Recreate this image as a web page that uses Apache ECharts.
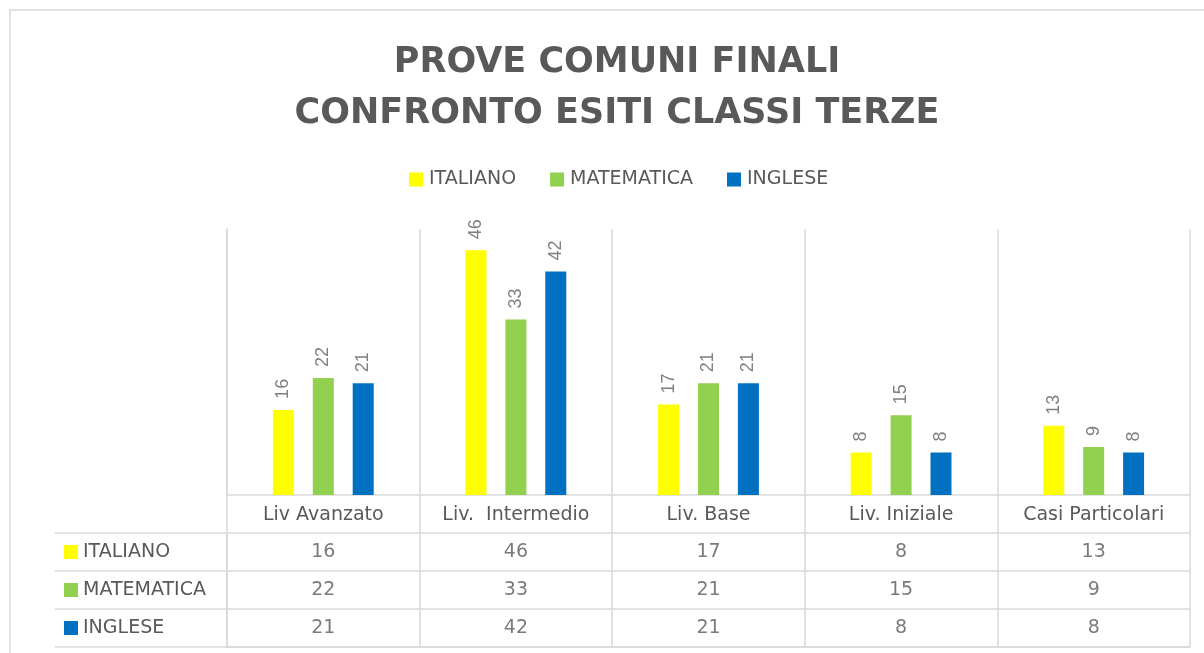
<!DOCTYPE html>
<html>
<head>
<meta charset="utf-8">
<script src="https://cdn.jsdelivr.net/npm/echarts@6/dist/echarts.min.js"></script>
<style>html,body{margin:0;padding:0;background:#fff;}#c{width:1204px;height:653px;}</style>
</head>
<body>
<div id="c"></div>
<script>
const categories = ['Liv Avanzato', 'Liv.  Intermedio', 'Liv. Base', 'Liv. Iniziale', 'Casi Particolari'];
const seriesNames = ['ITALIANO', 'MATEMATICA', 'INGLESE'];
const italiano = [16, 46, 17, 8, 13];
const matematica = [22, 33, 21, 15, 9];
const inglese = [21, 42, 21, 8, 8];
const colors = ['#FFFF00', '#92D050', '#0070C0'];

const seriesValues = [italiano, matematica, inglese];
const LINE = '#d9d9d9';
const TXT = '#595959';
const FONT = 'DejaVu Sans';

const chart = echarts.init(document.getElementById('c'), null, {renderer: 'canvas'});

const barSeries = seriesNames.map((name, i) => ({
  name: name,
  type: 'bar',
  xAxisIndex: 0,
  yAxisIndex: 0,
  data: seriesValues[i],
  barWidth: 21,
  barGap: '90%',
  itemStyle: {color: colors[i]},
  label: {
    show: true,
    position: 'top',
    rotate: 90,
    align: 'left',
    verticalAlign: 'middle',
    distance: 11,
    color: '#7f7f7f',
    fontSize: 18,
    fontFamily: 'Liberation Sans'
  }
}));

const cellData = [];
seriesValues.forEach((vals, r) => {
  vals.forEach((v, c) => cellData.push([c, r, v]));
});

const rich = {t: {fontSize: 19, fontFamily: FONT, color: TXT, padding: [0, 0, 0, 5], verticalAlign: 'middle'}};
colors.forEach((col, i) => {
  rich['m' + i] = {width: 14, height: 14, backgroundColor: col, verticalAlign: 'middle'};
});

const option = {
  animation: false,
  backgroundColor: '#fff',
  title: {
    text: 'PROVE COMUNI FINALI\nCONFRONTO ESITI CLASSI TERZE',
    left: 612,
    textAlign: 'center',
    top: 32,
    textStyle: {
      fontFamily: 'DejaVu Sans',
      fontWeight: 'bold',
      fontSize: 35,
      lineHeight: 51,
      color: TXT
    }
  },
  legend: {
    data: seriesNames,
    left: 409,
    top: 170,
    padding: 0,
    icon: 'rect',
    itemWidth: 14,
    itemHeight: 14,
    itemGap: 34,
    textStyle: {fontSize: 19, fontFamily: FONT, color: TXT, padding: [0, 0, 0, 1]}
  },
  grid: [
    {left: 227, right: 14, top: 229, bottom: 158},
    {left: 227, right: 14, top: 533, bottom: 6}
  ],
  xAxis: [
    {
      type: 'category',
      gridIndex: 0,
      data: categories,
      axisLine: {show: true, lineStyle: {color: LINE, width: 1.5}},
      axisTick: {show: true, interval: 0, length: 152, lineStyle: {color: LINE, width: 1.5}},
      splitLine: {show: true, interval: 0, lineStyle: {color: LINE, width: 1.5}},
      axisLabel: {interval: 0, margin: 11, fontSize: 19, fontFamily: FONT, color: TXT}
    },
    {
      type: 'category',
      gridIndex: 1,
      data: categories,
      axisLine: {show: true, lineStyle: {color: LINE, width: 1.5}},
      axisTick: {show: false},
      axisLabel: {show: false},
      splitLine: {show: false}
    }
  ],
  yAxis: [
    {
      type: 'value',
      gridIndex: 0,
      min: 0,
      max: 50,
      interval: 10,
      axisLine: {show: true, lineStyle: {color: LINE, width: 1.5}},
      axisTick: {show: false},
      axisLabel: {show: false},
      splitLine: {show: false}
    },
    {
      type: 'category',
      gridIndex: 1,
      inverse: true,
      data: seriesNames,
      axisLine: {show: true, lineStyle: {color: LINE, width: 1.5}},
      axisTick: {show: true, interval: 0, length: 172, lineStyle: {color: LINE, width: 1.5}},
      splitLine: {show: true, interval: 0, lineStyle: {color: LINE, width: 1.5}},
      axisLabel: {
        interval: 0,
        align: 'left',
        margin: 163,
        formatter: (value, index) => '{m' + index + '|}{t|' + value + '}',
        rich: rich
      }
    },
    {
      type: 'category',
      gridIndex: 1,
      inverse: true,
      data: seriesNames,
      offset: 172,
      axisLine: {show: true, lineStyle: {color: LINE, width: 1.5}},
      axisTick: {show: false},
      axisLabel: {show: false},
      splitLine: {show: false}
    }
  ],
  graphic: [
    {
      type: 'rect',
      shape: {x: 10, y: 10, width: 1400, height: 800},
      style: {fill: 'none', stroke: LINE, lineWidth: 1.5},
      silent: true,
      z: -1
    }
  ],
  series: barSeries.concat([
    {
      type: 'scatter',
      name: 'table',
      xAxisIndex: 1,
      yAxisIndex: 1,
      data: cellData,
      symbolSize: 1,
      itemStyle: {color: 'rgba(0,0,0,0)'},
      silent: true,
      label: {
        show: true,
        position: 'inside',
        formatter: p => String(p.value[2]),
        fontSize: 19,
        fontFamily: FONT,
        color: TXT
      }
    }
  ])
};

chart.setOption(option);
</script>
</body>
</html>
